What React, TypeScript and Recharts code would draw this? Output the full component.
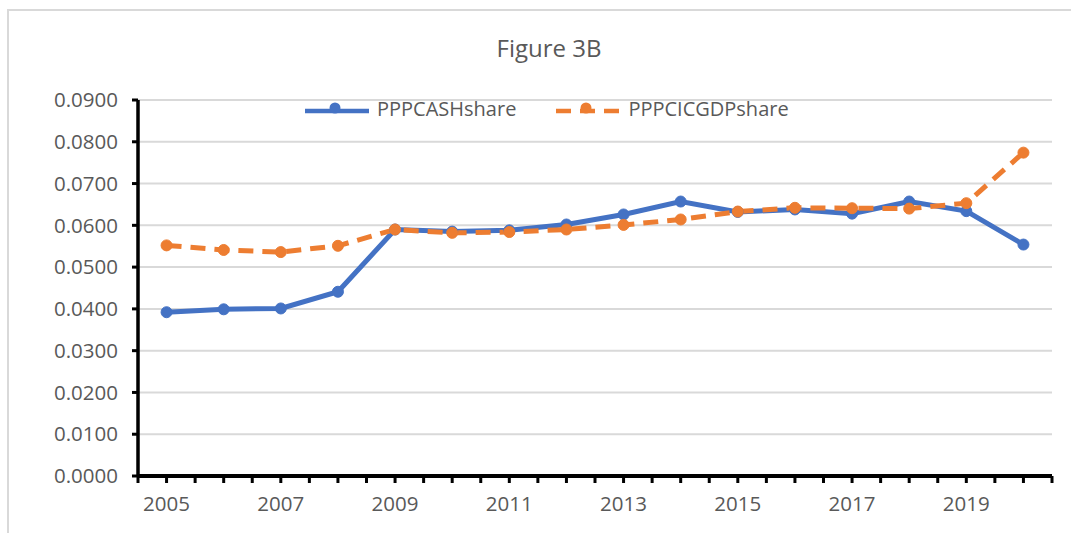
import React from "react";
import { LineChart, Line, XAxis, YAxis, CartesianGrid } from "recharts";

const years = [
  2005, 2006, 2007, 2008, 2009, 2010, 2011, 2012, 2013, 2014, 2015, 2016,
  2017, 2018, 2019, 2020,
];
const cashShare = [
  0.0392, 0.0399, 0.0401, 0.0441, 0.059, 0.0585, 0.0588, 0.0602, 0.0626,
  0.0657, 0.0632, 0.0638, 0.0628, 0.0657, 0.0634, 0.0554,
];
const cicGdpShare = [
  0.0552, 0.0541, 0.0536, 0.0551, 0.059, 0.0582, 0.0584, 0.059, 0.0601,
  0.0614, 0.0633, 0.0642, 0.0641, 0.064, 0.0653, 0.0774,
];
const yTicks = [0, 0.01, 0.02, 0.03, 0.04, 0.05, 0.06, 0.07, 0.08, 0.09];
const xTicks = [
  2004.5, 2005, 2005.5, 2006, 2006.5, 2007, 2007.5, 2008, 2008.5, 2009,
  2009.5, 2010, 2010.5, 2011, 2011.5, 2012, 2012.5, 2013, 2013.5, 2014,
  2014.5, 2015, 2015.5, 2016, 2016.5, 2017, 2017.5, 2018, 2018.5, 2019,
  2019.5, 2020, 2020.5,
];
const xLabels = [2005, 2007, 2009, 2011, 2013, 2015, 2017, 2019];

const data = years.map((year, i) => ({
  year,
  PPPCASHshare: cashShare[i],
  PPPCICGDPshare: cicGdpShare[i],
}));

const FONT = "'Open Sans', sans-serif";
const TEXT_COLOR = "#595959";
const BLUE = "#4472C4";
const ORANGE = "#ED7D31";

const TICK = { fill: TEXT_COLOR, fontSize: 20.5, fontFamily: FONT };

const legendItems = [
  { name: "PPPCASHshare", color: BLUE, dash: undefined as string | undefined },
  { name: "PPPCICGDPshare", color: ORANGE, dash: "15 9" },
];

function ChartLegend() {
  return (
    <div
      style={{
        position: "absolute",
        left: 303,
        top: 95,
        display: "flex",
        alignItems: "center",
        gap: 38,
      }}
    >
      {legendItems.map((it) => (
        <div key={it.name} style={{ display: "flex", alignItems: "center" }}>
          <svg width={68} height={20}>
            <line
              x1={2}
              y1={12}
              x2={66}
              y2={12}
              stroke={it.color}
              strokeWidth={4.5}
              strokeDasharray={it.dash}
            />
            <circle cx={32} cy={9} r={5.5} fill={it.color} />
          </svg>
          <span
            style={{
              marginLeft: 6,
              fontFamily: FONT,
              fontSize: 20,
              color: TEXT_COLOR,
            }}
          >
            {it.name}
          </span>
        </div>
      ))}
    </div>
  );
}

export default function App() {
  return (
    <div
      style={{
        position: "absolute",
        left: 0,
        top: 0,
        width: 1071,
        height: 533,
        overflow: "hidden",
        background: "#ffffff",
      }}
    >
      {/* chart border, cut off at right and bottom as in the source */}
      <div
        style={{
          position: "absolute",
          left: 7,
          top: 9,
          width: 1200,
          height: 700,
          border: "2px solid #d9d9d9",
        }}
      />
      <div
        style={{
          position: "absolute",
          left: 0,
          width: 1098,
          top: 33,
          textAlign: "center",
          fontFamily: FONT,
          fontSize: 24,
          color: TEXT_COLOR,
          lineHeight: "30px",
        }}
      >
        Figure 3B
      </div>
      <div style={{ position: "absolute", left: 0, top: 0 }}>
        <LineChart
          width={1071}
          height={533}
          data={data}
          margin={{ top: 100, right: 19, bottom: 27, left: 78 }}
        >
          <CartesianGrid vertical={false} stroke="#d9d9d9" strokeWidth={2} />
          <XAxis
            dataKey="year"
            type="number"
            height={30}
            domain={[2004.5, 2020.5]}
            ticks={xTicks}
            interval={0}
            tickFormatter={(v: number) =>
              xLabels.includes(v) ? String(v) : ""
            }
            axisLine={{ stroke: "#000", strokeWidth: 4 }}
            tickLine={{ stroke: "#000", strokeWidth: 3 }}
            tickSize={7}
            tickMargin={13}
            tick={TICK}
          />
          <YAxis
            width={60}
            domain={[0, 0.09]}
            ticks={yTicks}
            interval={0}
            tickFormatter={(v: number) => v.toFixed(4)}
            axisLine={{ stroke: "#000", strokeWidth: 3.5 }}
            tickLine={{ stroke: "#000", strokeWidth: 3 }}
            tickSize={6}
            tickMargin={14}
            tick={TICK}
          />
          <Line
            type="linear"
            dataKey="PPPCASHshare"
            stroke={BLUE}
            strokeWidth={5}
            dot={{ r: 5.5, fill: BLUE, stroke: BLUE, strokeWidth: 1 }}
            isAnimationActive={false}
          />
          <Line
            type="linear"
            dataKey="PPPCICGDPshare"
            stroke={ORANGE}
            strokeWidth={5}
            strokeDasharray="15 9"
            dot={{
              r: 5.5,
              fill: ORANGE,
              stroke: ORANGE,
              strokeWidth: 1,
              strokeDasharray: "0",
            }}
            isAnimationActive={false}
          />
        </LineChart>
      </div>
      <ChartLegend />
    </div>
  );
}
